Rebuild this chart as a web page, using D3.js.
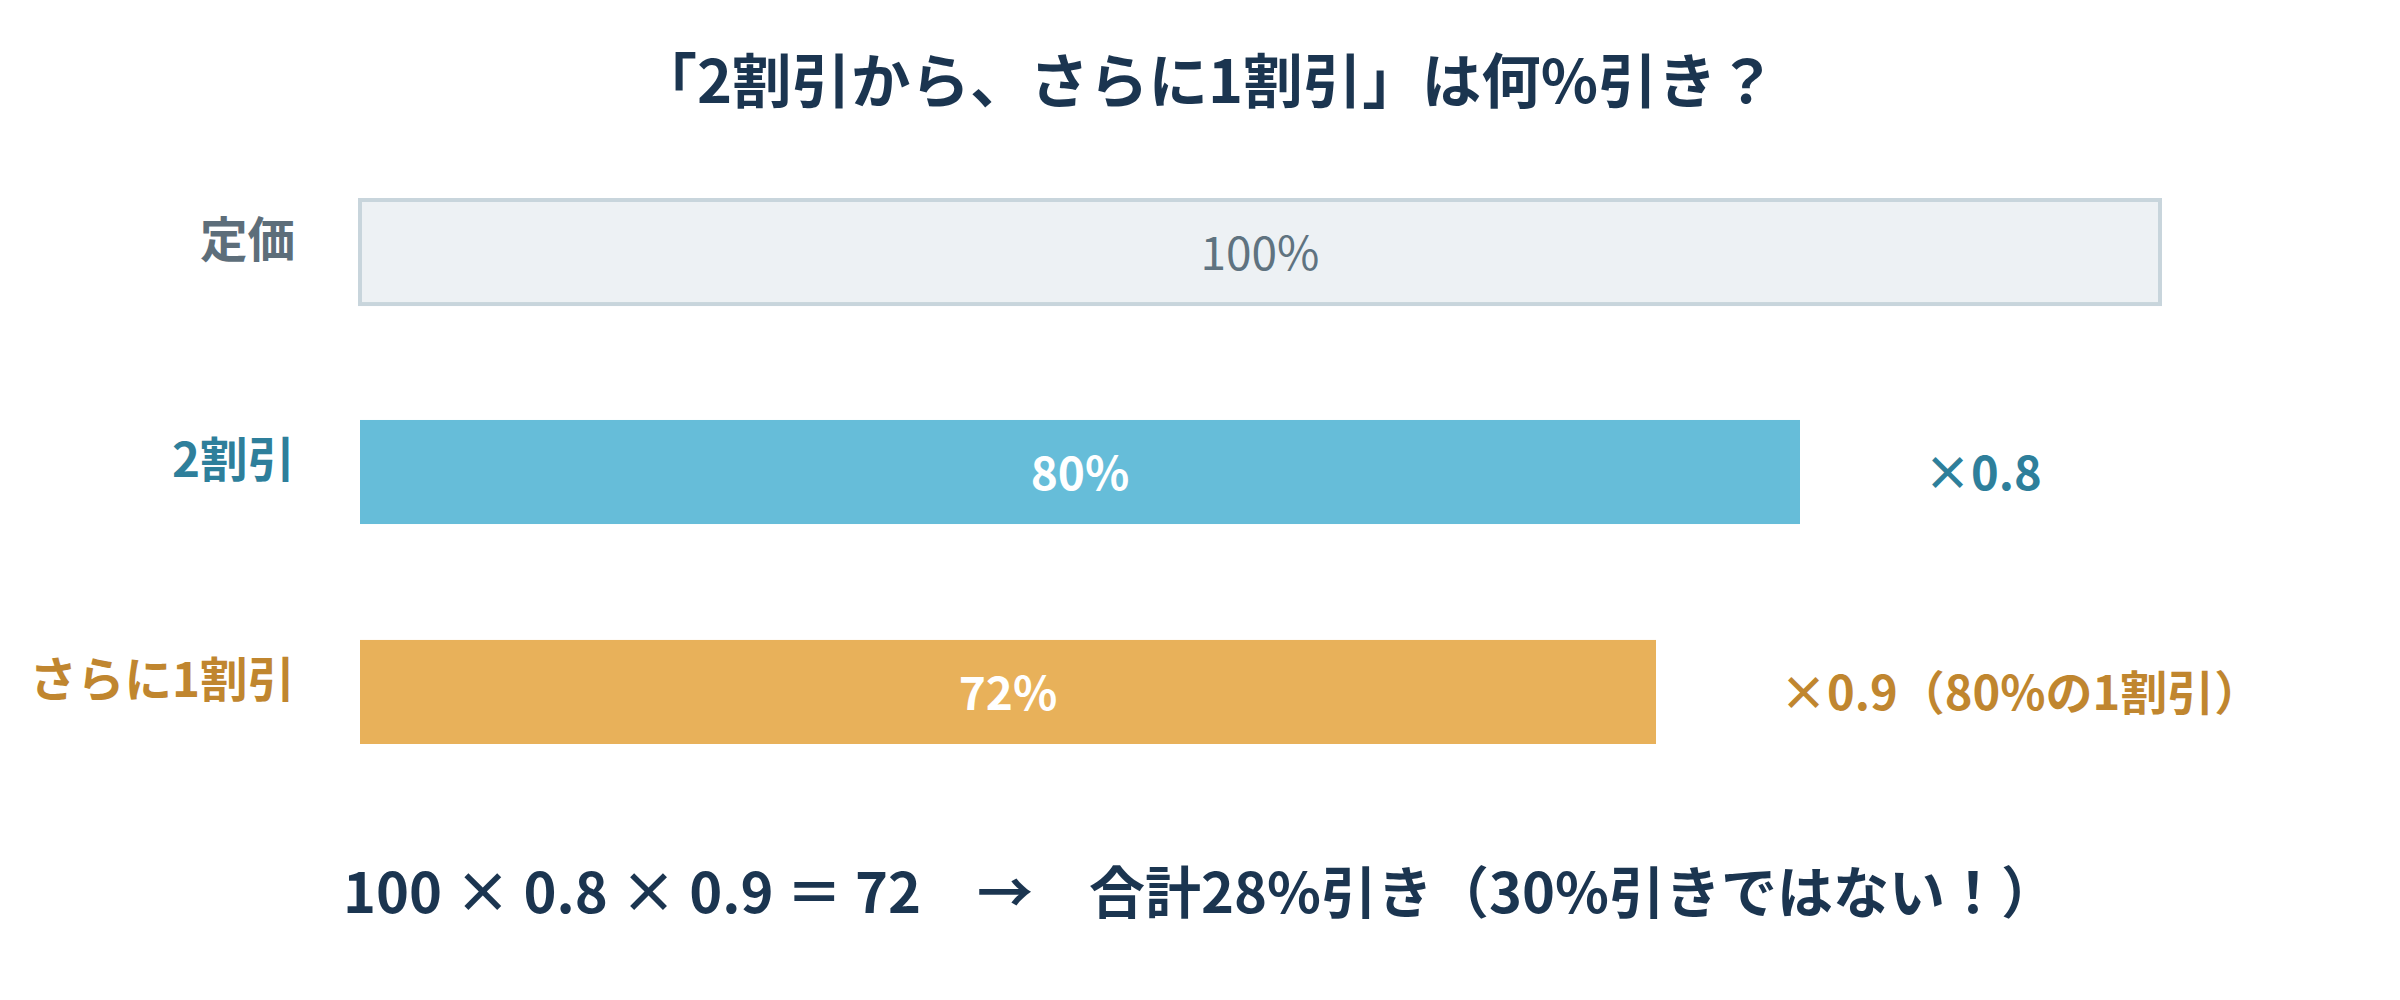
<!DOCTYPE html>
<html>
<head>
<meta charset="utf-8">
<script src="https://cdn.jsdelivr.net/npm/d3@7"></script>
<style>
  html, body { margin: 0; padding: 0; background: #fff; }
  text { font-family: "Noto Sans CJK JP", "Noto Sans", sans-serif; }
</style>
</head>
<body>
<div id="vis"></div>
<script>
var title = '「2割引から、さらに1割引」は何%引き？';
var categories = ['定価', '2割引', 'さらに1割引'];
var values = [100, 80, 72];
var valueLabels = ['100%', '80%', '72%'];
var stepLabels = ['', '×0.8', '×0.9（80%の1割引）'];
var summary = '100 × 0.8 × 0.9 ＝ 72　→　合計28%引き（30%引きではない！）';

var width = 2400;
var height = 1000;

var fills = ['#edf1f4', '#66bdd9', '#e8b15a'];
var labelColors = ['#5d6e7a', '#2e7f9b', '#c0862f'];

var svg = d3.select('#vis')
  .append('svg')
  .attr('width', width)
  .attr('height', height);

var x = d3.scaleLinear()
  .domain([0, 100])
  .range([360, 2160]);

var y = d3.scaleBand()
  .domain(categories)
  .range([200, 744])
  .paddingInner(0.527)
  .paddingOuter(0);

svg.append('text')
  .attr('x', 1207)
  .attr('y', 103)
  .attr('text-anchor', 'middle')
  .attr('font-size', 59.5)
  .attr('font-weight', 700)
  .attr('fill', '#1b3550')
  .text(title);

var rows = svg.selectAll('.row')
  .data(categories)
  .enter().append('g')
  .attr('class', 'row');

rows.append('rect')
  .attr('x', x(0))
  .attr('y', function (d) { return y(d); })
  .attr('width', function (d, i) { return x(values[i]) - x(0); })
  .attr('height', y.bandwidth())
  .attr('fill', function (d, i) { return fills[i]; })
  .attr('stroke', function (d, i) { return i === 0 ? '#c8d5dc' : 'none'; })
  .attr('stroke-width', 4);

// category labels on the left
rows.append('text')
  .attr('x', 295)
  .attr('y', function (d) { return y(d) + y.bandwidth() / 2 + 5; })
  .attr('text-anchor', 'end')
  .attr('font-size', 47.5)
  .attr('font-weight', 700)
  .attr('fill', function (d, i) { return labelColors[i]; })
  .text(function (d) { return d; });

// value inside bar
rows.append('text')
  .attr('x', function (d, i) { return (x(0) + x(values[i])) / 2; })
  .attr('y', function (d) { return y(d) + y.bandwidth() / 2 + 18; })
  .attr('text-anchor', 'middle')
  .attr('font-size', 46)
  .attr('font-weight', function (d, i) { return i === 0 ? 400 : 700; })
  .attr('fill', function (d, i) { return i === 0 ? '#5f7380' : '#ffffff'; })
  .text(function (d, i) { return valueLabels[i]; });

// multiplier notes to the right
rows.append('text')
  .attr('x', function (d, i) { return x(values[i]) + 124; })
  .attr('y', function (d) { return y(d) + y.bandwidth() / 2 + 18; })
  .attr('font-size', 47)
  .attr('font-weight', 700)
  .attr('fill', function (d, i) { return labelColors[i]; })
  .text(function (d, i) { return stepLabels[i]; });

svg.append('text')
  .attr('x', 1200)
  .attr('y', 913)
  .attr('text-anchor', 'middle')
  .attr('font-size', 56)
  .attr('font-weight', 700)
  .attr('fill', '#1b3550')
  .text(summary);
</script>
</body>
</html>
